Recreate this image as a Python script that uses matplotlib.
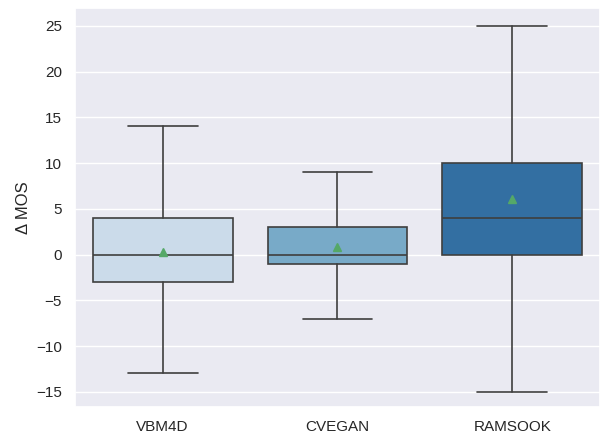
import numpy as np
import matplotlib.pyplot as plt
import seaborn as sns

methods = ["VBM4D", "CVEGAN", "RAMSOOK"]
whislo = [-13, -7, -15]
q1 = [-3, -1, 0]
med = [0, 0, 4]
q3 = [4, 3, 10]
whishi = [14, 9, 25]
means = [0.3, 0.8, 6.1]

sns.set_theme(style="darkgrid")
plt.rcParams['font.family'] = ['Liberation Sans', 'DejaVu Sans']

stats = []
for i, m in enumerate(methods):
    stats.append(dict(label=m, whislo=whislo[i], q1=q1[i], med=med[i],
                      q3=q3[i], whishi=whishi[i], mean=means[i], fliers=[]))

colors = [sns.desaturate(c, 0.75) for c in sns.color_palette("Blues", 3)]
lc = "#3f3f3f"

fig = plt.figure(figsize=(6.07, 4.37), dpi=100)
ax = fig.add_axes([0.124, 0.069, 0.864, 0.913])
bp = ax.bxp(stats, positions=np.arange(len(methods)), widths=0.8,
            patch_artist=True, showmeans=True, showfliers=False,
            boxprops=dict(edgecolor=lc, linewidth=1.2),
            whiskerprops=dict(color=lc, linewidth=1.2),
            capprops=dict(color=lc, linewidth=1.2),
            medianprops=dict(color=lc, linewidth=1.2),
            meanprops=dict(marker="^", markerfacecolor="#55a868",
                           markeredgecolor="#55a868", markersize=6))
for patch, c in zip(bp["boxes"], colors):
    patch.set_facecolor(c)
for cap in bp["caps"]:
    x0, x1 = cap.get_xdata()
    xc = (x0 + x1) / 2
    cap.set_xdata([xc - 0.2, xc + 0.2])

ax.set_xlim(-0.5, 2.5)
ax.set_ylim(-16.65, 26.97)
ax.grid(False, axis="x")
ax.set_ylabel("Δ MOS", fontsize=12)
ax.tick_params(labelsize=11)
ax.set_yticks([-15, -10, -5, 0, 5, 10, 15, 20, 25])
fig.savefig("out.png", dpi=100)
